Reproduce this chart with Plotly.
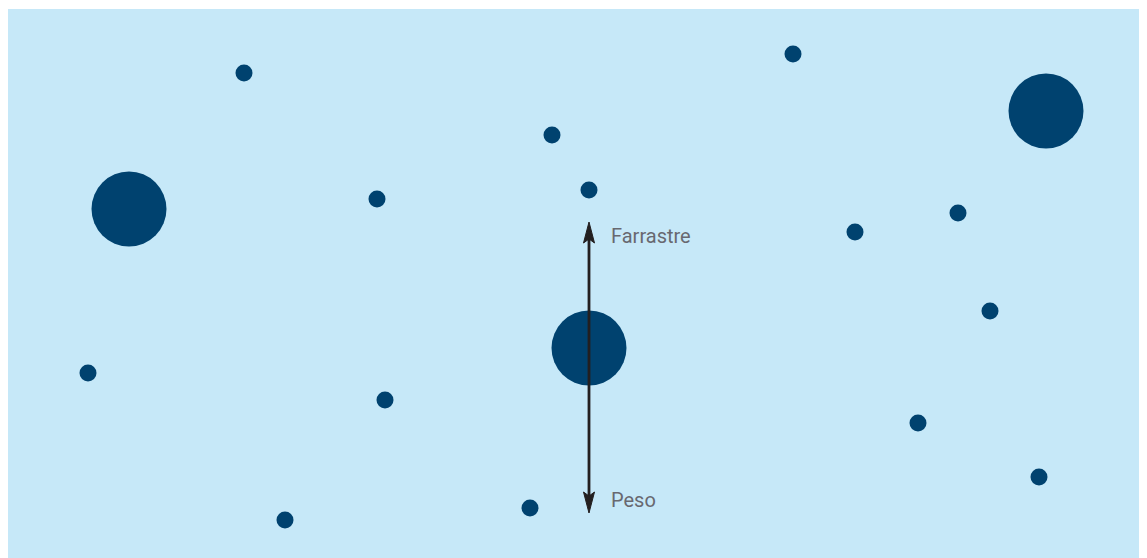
# %% Import
import plotly.graph_objects as go

# %% Data (pixel-like coordinates)
small_x = [244, 793, 552, 377, 589, 855, 958, 990, 88, 385, 918, 1039, 285, 530]
small_y = [73, 54, 135, 199, 190, 232, 213, 311, 373, 400, 423, 477, 520, 508]
big_x = [129, 1046, 589]
big_y = [209, 111, 348]
arrow_x = 589
arrow_top = 222
arrow_bottom = 513
labels = ["Farrastre", "Peso"]
label_y = [236, 500]

DOT = "#00426F"
BG = "#C6E8F8"
INK = "#231F20"
HEAD_LEN, HEAD_HALF, NOTCH = 21, 5.5, 4

# %% Plot
fig = go.Figure()
fig.add_trace(go.Scatter(x=small_x, y=small_y, mode="markers",
                         marker=dict(size=17, color=DOT, line=dict(width=0)),
                         hoverinfo="skip"))
fig.add_trace(go.Scatter(x=big_x, y=big_y, mode="markers",
                         marker=dict(size=75, color=DOT, line=dict(width=0)),
                         hoverinfo="skip"))

# double arrow: stem + two narrow notched heads
fig.add_shape(type="line", x0=arrow_x, x1=arrow_x,
              y0=arrow_top + HEAD_LEN - NOTCH, y1=arrow_bottom - HEAD_LEN + NOTCH,
              line=dict(color=INK, width=2.8), layer="above")
for tip, d in ((arrow_top, 1), (arrow_bottom, -1)):
    path = (f"M{arrow_x},{tip} "
            f"L{arrow_x + HEAD_HALF},{tip + d * HEAD_LEN} "
            f"L{arrow_x},{tip + d * (HEAD_LEN - NOTCH)} "
            f"L{arrow_x - HEAD_HALF},{tip + d * HEAD_LEN} Z")
    fig.add_shape(type="path", path=path, fillcolor=INK,
                  line=dict(color=INK, width=1), layer="above")

for txt, ty in zip(labels, label_y):
    fig.add_annotation(x=arrow_x + 20, y=ty, text=txt, showarrow=False,
                       xanchor="left", yanchor="middle",
                       font=dict(family="Roboto", size=20, color="#686870"))

# the page body has an 8px margin, so the plot is sized to sit flush right/bottom
fig.update_layout(width=1139, height=550, showlegend=False,
                  margin=dict(l=0, r=0, t=1, b=0),
                  paper_bgcolor="white", plot_bgcolor=BG)
fig.update_xaxes(range=[8, 1147], visible=False, fixedrange=True)
fig.update_yaxes(range=[558, 9], visible=False, fixedrange=True)

fig.write_html("out.html", config={"displayModeBar": False})
